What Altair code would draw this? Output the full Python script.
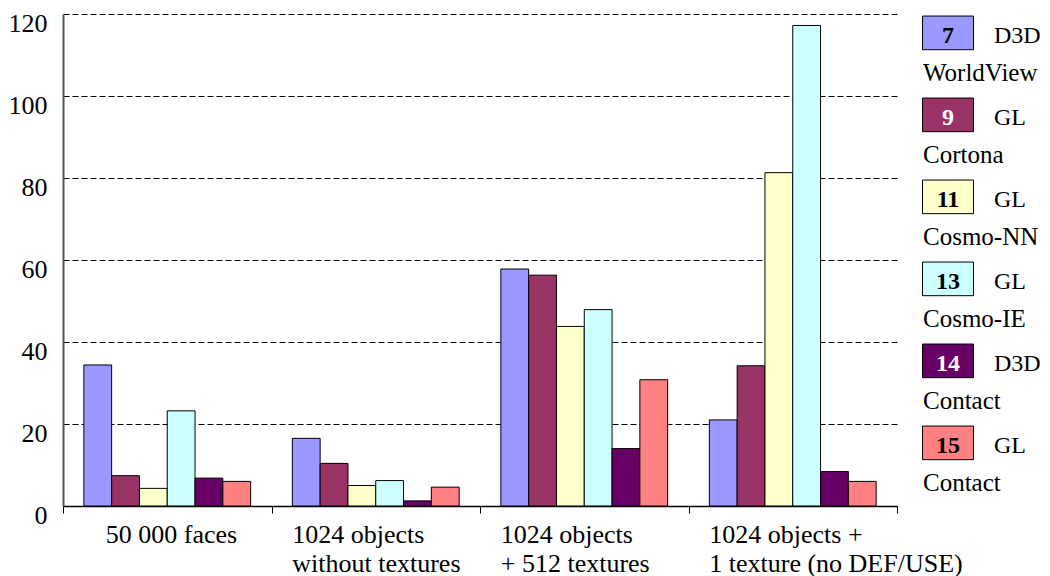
import altair as alt
import pandas as pd

# ---- data ----
groups = [
    "50 000 faces",
    "1024 objects|without textures",
    "1024 objects|+ 512 textures",
    "1024 objects +|1 texture (no DEF/USE)",
]
series = ["D3D WorldView", "GL Cortona", "GL Cosmo-NN", "GL Cosmo-IE", "D3D Contact", "GL Contact"]
codes = ["7", "9", "11", "13", "14", "15"]
apis = ["D3D", "GL", "GL", "GL", "D3D", "GL"]
names = ["WorldView", "Cortona", "Cosmo-NN", "Cosmo-IE", "Contact", "Contact"]
colors = ["#9999FF", "#993366", "#FFFFCC", "#CCFFFF", "#660066", "#FF8080"]
code_colors = ["black", "white", "black", "black", "white", "black"]

values_worldview = [34.4, 16.5, 57.8, 21.0]
values_cortona = [7.4, 10.4, 56.3, 34.2]
values_cosmo_nn = [4.3, 5.0, 43.8, 81.3]
values_cosmo_ie = [23.2, 6.2, 47.9, 117.2]
values_contact_d3d = [6.8, 1.25, 14.0, 8.4]
values_contact_gl = [6.0, 4.6, 30.8, 6.0]

y_ticks = [0, 20, 40, 60, 80, 100, 120]

all_values = [values_worldview, values_cortona, values_cosmo_nn,
              values_cosmo_ie, values_contact_d3d, values_contact_gl]

rows = []
for s, vals in zip(series, all_values):
    for g, v in zip(groups, vals):
        rows.append({"group": g, "series": s, "value": v})
df = pd.DataFrame(rows)

leg = pd.DataFrame({
    "series": series, "code": codes, "api": apis, "name": names, "code_color": code_colors,
})

FONT = "Liberation Serif"

color_enc = alt.Color("series:N", sort=series,
                      scale=alt.Scale(domain=series, range=colors), legend=None)

bars = alt.Chart(df).mark_bar(stroke="black", strokeWidth=1).encode(
    x=alt.X(
        "group:N", sort=groups, title=None,
        scale=alt.Scale(paddingInner=0, paddingOuter=0),
        axis=alt.Axis(
            tickBand="extent",
            labelExpr="split(datum.label, '|')",
            labelAlign="left", labelBaseline="top", labelAngle=0,
            labelOffset={"condition": {"test": "datum.value == '50 000 faces'", "value": -62}, "value": -84},
            labelFont=FONT, labelFontSize=26, labelColor="black",
            labelLineHeight=29, labelPadding=8, labelLimit=400, labelOverlap=False,
            tickSize=7, tickColor="black", tickWidth=1,
            domainColor="black", domainWidth=1.5, grid=False,
        ),
    ),
    xOffset=alt.XOffset("series:N", sort=series,
                        scale=alt.Scale(paddingInner=0, paddingOuter=0.75)),
    y=alt.Y(
        "value:Q", title=None,
        scale=alt.Scale(domain=[0, 120], nice=False),
        axis=alt.Axis(
            values=y_ticks, grid=True, gridDash=[6, 3], gridColor="black", gridWidth=1,
            ticks=False, labelOffset=9, labelPadding=16,
            labelFont=FONT, labelFontSize=26, labelColor="black",
            domainColor="#555555", domainWidth=2,
        ),
    ),
    color=color_enc,
)

leg_y = alt.Y("series:N", sort=series, axis=None, title=None,
              scale=alt.Scale(type="band", paddingInner=0, paddingOuter=0),
              bandPosition=0.23)

rect_path = "M-1,-0.66L1,-0.66L1,0.66L-1,0.66Z"
leg_boxes = alt.Chart(leg).mark_point(
    shape=rect_path, filled=True, opacity=1, size=2600, stroke="black", strokeWidth=1
).encode(x=alt.value(885), y=leg_y, color=color_enc)

leg_codes = alt.Chart(leg).mark_text(
    font=FONT, fontSize=24, fontWeight="bold", align="center", baseline="alphabetic", dy=10
).encode(x=alt.value(885), y=leg_y, text="code:N",
         fill=alt.Fill("code_color:N", scale=None))

leg_api = alt.Chart(leg).mark_text(
    font=FONT, fontSize=24, align="left", baseline="alphabetic", dy=10, color="black"
).encode(x=alt.value(931), y=leg_y, text="api:N")

leg_name = alt.Chart(leg).mark_text(
    font=FONT, fontSize=25, align="left", baseline="alphabetic", dy=48, color="black"
).encode(x=alt.value(860), y=leg_y, text="name:N")

chart = alt.layer(bars, leg_boxes, leg_codes, leg_api, leg_name).resolve_scale(
    y="independent"
).properties(
    width=834, height=492, padding={"top": 2, "left": 0, "right": 0, "bottom": 0}
).configure_view(stroke=None)

chart.save("out.html", embed_options={"renderer": "svg", "actions": False})
